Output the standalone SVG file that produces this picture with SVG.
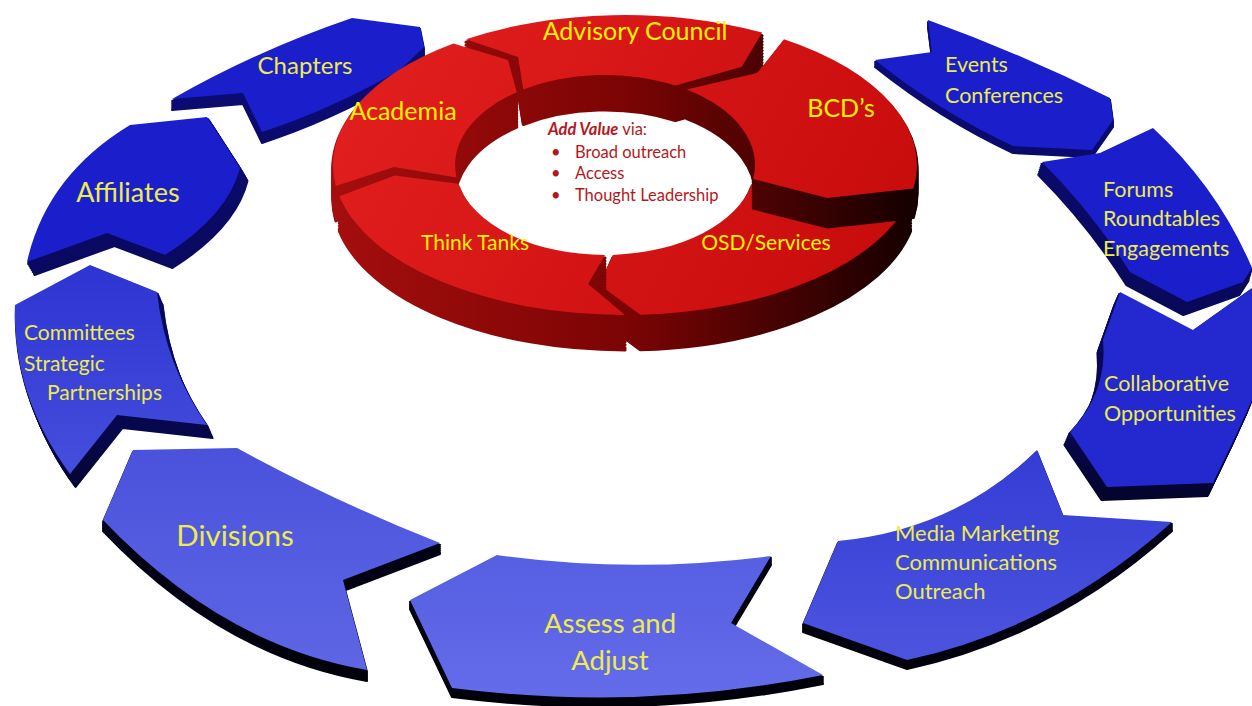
<svg xmlns="http://www.w3.org/2000/svg" width="1252" height="706" viewBox="0 0 1252 706">
<defs>
<linearGradient id="redTop" gradientUnits="userSpaceOnUse" x1="330" y1="20" x2="900" y2="330"><stop offset="0" stop-color="#e42020"/><stop offset="1" stop-color="#c60a0a"/></linearGradient>
<linearGradient id="redWall" gradientUnits="userSpaceOnUse" x1="330" y1="0" x2="920" y2="0"><stop offset="0" stop-color="#a50e0e"/><stop offset="0.5" stop-color="#7c0404"/><stop offset="1" stop-color="#140000"/></linearGradient>
<linearGradient id="blueSide" gradientUnits="userSpaceOnUse" x1="0" y1="0" x2="0" y2="706"><stop offset="0" stop-color="#0c0c7c"/><stop offset="0.6" stop-color="#07074c"/><stop offset="0.75" stop-color="#020216"/><stop offset="1" stop-color="#000008"/></linearGradient>
<linearGradient id="gComm" x1="0" y1="0" x2="0" y2="1"><stop offset="0" stop-color="#2d34d2"/><stop offset="1" stop-color="#464edc"/></linearGradient>
<linearGradient id="gMedia" x1="0" y1="0" x2="0" y2="1"><stop offset="0" stop-color="#343cd5"/><stop offset="1" stop-color="#4c54de"/></linearGradient>
<linearGradient id="gDiv" x1="0" y1="0" x2="0" y2="1"><stop offset="0" stop-color="#4a52dc"/><stop offset="1" stop-color="#5e66e5"/></linearGradient>
<linearGradient id="gAss" x1="0" y1="0" x2="0" y2="1"><stop offset="0" stop-color="#565ee2"/><stop offset="1" stop-color="#646cea"/></linearGradient>
<path id="pChap" d="M172,99 Q258,50 352,18 L420,27 L424,47 L400,70 Q330,110 262,132 L243,93 Z"/>
<path id="pEvents" d="M875,60 L932,52 L928,20 Q1022,54 1110,98 L1113,120 L1092,150 L1013,146 Q940,112 875,60 Z"/>
<path id="pAffil" d="M27,262 L107,233 L165,255 Q228,215 240,168 L207,117 L130,125 Q46,176 27,262 Z"/>
<path id="pForums" d="M1042,162 L1100,153 L1153,128 Q1218,188 1252,268 L1243,282 L1187,302 L1130,272 Q1092,212 1042,162 Z"/>
<path id="pComm" d="M15,305 L90,265 L157,292 Q165,365 207,425 L117,415 L70,474 Q12,395 15,305 Z"/>
<path id="pCollab" d="M1120,292 L1193,330 L1252,288 L1252,400 L1237,433 L1213,483 L1107,487 L1070,432 Q1108,392 1103,340 Z"/>
<path id="pDiv" d="M133,450 L237,448 Q338,503 440,543 L343,580 L367,670 Q222,645 103,520 Z"/>
<path id="pMedia" d="M803,623 L838,541 Q955,530 1037,450 L1063,515 L1172,522 Q1055,628 907,660 Z"/>
<path id="pAssess" d="M410,600 L497,555 Q633,574 771,556 L731,623 L823,675 Q640,712 452,688 Z"/>
<path id="pAdv" d="M466,39.2 A292 150 0 0 1 762.1,32.6 L741.8,66.7 L675.4,85.5 A150 90 0 0 0 523.3,89.5 L518.1,57.1 Z"/>
<path id="pAcad" d="M335.8,185.9 A292 150 0 0 1 453.4,43.6 L507.9,60 L516.8,92.2 A150 90 0 0 0 456.5,177.5 L394,167.1 Z"/>
<path id="pBcd" d="M784,39.2 A292 150 0 0 1 913.4,188.5 L827.4,198.1 L753.2,179.1 A150 90 0 0 0 686.7,89.5 L757.1,73.1 Z"/>
<path id="pOsd" d="M910.6,196.2 A292 150 0 0 1 640.3,314.8 L599.6,284.7 L612.8,254.9 A150 90 0 0 0 751.7,183.7 L824,204.1 Z"/>
<path id="pTt" d="M625,315 A292 150 0 0 1 339.4,196.2 L394.8,175.5 L458.3,183.7 A150 90 0 0 0 605,255 L588.1,284.1 Z"/>
</defs>
<style>
.bside{fill:url(#blueSide);stroke:url(#blueSide);stroke-width:2;stroke-linejoin:round}
.rwall{fill:url(#redWall);stroke:url(#redWall);stroke-width:3;stroke-linejoin:round}
.rtop{fill:url(#redTop)}
.bdeep{fill:#1b1fcb}
.bcol{fill:#2329cf}
.lbl{font-family:Lato,"Liberation Sans",sans-serif}
.ty{fill:#fff200}
.tb{fill:#ecec4e}
.tv{fill:#b3191b;font-size:16.5px}
</style>
<rect width="1252" height="706" fill="#ffffff"/>

<g id="chapters">
<use href="#pChap" class="bside" transform="translate(0,2)"/><use href="#pChap" class="bside" transform="translate(0,4)"/><use href="#pChap" class="bside" transform="translate(0,6)"/><use href="#pChap" class="bside" transform="translate(0,8)"/><use href="#pChap" class="bside" transform="translate(0,10)"/><use href="#pChap" class="bside" transform="translate(0,11)"/>
<use href="#pChap" class="bdeep"/>
<text class="lbl tb" x="305" y="74" font-size="24" text-anchor="middle">Chapters</text>
</g>

<g id="events">
<use href="#pEvents" class="bside" transform="translate(0,2)"/><use href="#pEvents" class="bside" transform="translate(0,4)"/><use href="#pEvents" class="bside" transform="translate(0,6)"/><use href="#pEvents" class="bside" transform="translate(0,7)"/>
<use href="#pEvents" class="bdeep"/>
<text class="lbl tb" x="945" y="72" font-size="21.5">Events</text>
<text class="lbl tb" x="945" y="103" font-size="21.5">Conferences</text>
</g>

<g id="affiliates">
<use href="#pAffil" class="bside" transform="translate(1.1,2)"/><use href="#pAffil" class="bside" transform="translate(2.3,4)"/><use href="#pAffil" class="bside" transform="translate(3.4,6)"/><use href="#pAffil" class="bside" transform="translate(4.6,8)"/><use href="#pAffil" class="bside" transform="translate(5.7,10)"/><use href="#pAffil" class="bside" transform="translate(6.9,12)"/><use href="#pAffil" class="bside" transform="translate(7.5,13)"/>
<use href="#pAffil" class="bdeep"/>
<text class="lbl tb" x="128" y="202" font-size="27" text-anchor="middle">Affiliates</text>
</g>

<g id="forums">
<use href="#pForums" class="bside" transform="translate(-0.6,2)"/><use href="#pForums" class="bside" transform="translate(-1.1,4)"/><use href="#pForums" class="bside" transform="translate(-1.7,6)"/><use href="#pForums" class="bside" transform="translate(-2.3,8)"/><use href="#pForums" class="bside" transform="translate(-2.9,10)"/><use href="#pForums" class="bside" transform="translate(-3.4,12)"/><use href="#pForums" class="bside" transform="translate(-3.7,13)"/>
<use href="#pForums" class="bdeep"/>
<text class="lbl tb" x="1103" y="197" font-size="21.5">Forums</text>
<text class="lbl tb" x="1103" y="226" font-size="21.5">Roundtables</text>
<text class="lbl tb" x="1103" y="256" font-size="21.5">Engagements</text>
</g>

<g id="committees">
<use href="#pComm" class="bside" transform="translate(0.9,2)"/><use href="#pComm" class="bside" transform="translate(1.7,4)"/><use href="#pComm" class="bside" transform="translate(2.6,6)"/><use href="#pComm" class="bside" transform="translate(3.4,8)"/><use href="#pComm" class="bside" transform="translate(4.3,10)"/><use href="#pComm" class="bside" transform="translate(5.1,12)"/><use href="#pComm" class="bside" transform="translate(5.6,13)"/>
<use href="#pComm" fill="url(#gComm)"/>
<text class="lbl tb" x="24" y="340" font-size="21">Committees</text>
<text class="lbl tb" x="24" y="371" font-size="21">Strategic</text>
<text class="lbl tb" x="47" y="400" font-size="21">Partnerships</text>
</g>

<g id="collaborative">
<use href="#pCollab" class="bside" transform="translate(-0.9,2)"/><use href="#pCollab" class="bside" transform="translate(-1.7,4)"/><use href="#pCollab" class="bside" transform="translate(-2.6,6)"/><use href="#pCollab" class="bside" transform="translate(-3.4,8)"/><use href="#pCollab" class="bside" transform="translate(-4.3,10)"/><use href="#pCollab" class="bside" transform="translate(-5.1,12)"/><use href="#pCollab" class="bside" transform="translate(-5.6,13)"/>
<use href="#pCollab" class="bcol"/>
<text class="lbl tb" x="1104" y="391" font-size="21.5">Collaborative</text>
<text class="lbl tb" x="1104" y="421" font-size="21.5">Opportunities</text>
</g>

<g id="divisions">
<use href="#pDiv" class="bside" transform="translate(0,2)"/><use href="#pDiv" class="bside" transform="translate(0,4)"/><use href="#pDiv" class="bside" transform="translate(0,6)"/><use href="#pDiv" class="bside" transform="translate(0,8)"/><use href="#pDiv" class="bside" transform="translate(0,10)"/><use href="#pDiv" class="bside" transform="translate(0,11)"/>
<use href="#pDiv" fill="url(#gDiv)"/>
<text class="lbl tb" x="235" y="546" font-size="29.5" text-anchor="middle">Divisions</text>
</g>

<g id="media">
<use href="#pMedia" class="bside" transform="translate(0,2)"/><use href="#pMedia" class="bside" transform="translate(0,4)"/><use href="#pMedia" class="bside" transform="translate(0,6)"/><use href="#pMedia" class="bside" transform="translate(0,8)"/><use href="#pMedia" class="bside" transform="translate(0,9)"/>
<use href="#pMedia" fill="url(#gMedia)"/>
<text class="lbl tb" x="895" y="541" font-size="22">Media Marketing</text>
<text class="lbl tb" x="895" y="570" font-size="22">Communications</text>
<text class="lbl tb" x="895" y="599" font-size="22">Outreach</text>
</g>

<g id="assess">
<use href="#pAssess" class="bside" transform="translate(0,2)"/><use href="#pAssess" class="bside" transform="translate(0,4)"/><use href="#pAssess" class="bside" transform="translate(0,6)"/><use href="#pAssess" class="bside" transform="translate(0,8)"/><use href="#pAssess" class="bside" transform="translate(0,9)"/>
<use href="#pAssess" fill="url(#gAss)"/>
<text class="lbl tb" x="610" y="633" font-size="27.5" text-anchor="middle">Assess and</text>
<text class="lbl tb" x="610" y="670" font-size="27.5" text-anchor="middle">Adjust</text>
</g>

<g id="advisory">
<use href="#pAdv" class="rwall" transform="translate(0,3)"/><use href="#pAdv" class="rwall" transform="translate(0,6)"/><use href="#pAdv" class="rwall" transform="translate(0,9)"/><use href="#pAdv" class="rwall" transform="translate(0,12)"/><use href="#pAdv" class="rwall" transform="translate(0,15)"/><use href="#pAdv" class="rwall" transform="translate(0,18)"/><use href="#pAdv" class="rwall" transform="translate(0,21)"/><use href="#pAdv" class="rwall" transform="translate(0,24)"/><use href="#pAdv" class="rwall" transform="translate(0,27)"/><use href="#pAdv" class="rwall" transform="translate(0,30)"/><use href="#pAdv" class="rwall" transform="translate(0,33)"/><use href="#pAdv" class="rwall" transform="translate(0,35)"/>
<use href="#pAdv" class="rtop"/>
<text class="lbl ty" x="635" y="40" font-size="25" text-anchor="middle">Advisory Council</text>
</g>

<g id="academia">
<use href="#pAcad" class="rwall" transform="translate(0,3)"/><use href="#pAcad" class="rwall" transform="translate(0,6)"/><use href="#pAcad" class="rwall" transform="translate(0,9)"/><use href="#pAcad" class="rwall" transform="translate(0,12)"/><use href="#pAcad" class="rwall" transform="translate(0,15)"/><use href="#pAcad" class="rwall" transform="translate(0,18)"/><use href="#pAcad" class="rwall" transform="translate(0,21)"/><use href="#pAcad" class="rwall" transform="translate(0,24)"/><use href="#pAcad" class="rwall" transform="translate(0,27)"/><use href="#pAcad" class="rwall" transform="translate(0,30)"/><use href="#pAcad" class="rwall" transform="translate(0,33)"/><use href="#pAcad" class="rwall" transform="translate(0,35)"/>
<use href="#pAcad" class="rtop"/>
<text class="lbl ty" x="403" y="120" font-size="25" text-anchor="middle">Academia</text>
</g>

<g id="osd-services">
<use href="#pOsd" class="rwall" transform="translate(0,3)"/><use href="#pOsd" class="rwall" transform="translate(0,6)"/><use href="#pOsd" class="rwall" transform="translate(0,9)"/><use href="#pOsd" class="rwall" transform="translate(0,12)"/><use href="#pOsd" class="rwall" transform="translate(0,15)"/><use href="#pOsd" class="rwall" transform="translate(0,18)"/><use href="#pOsd" class="rwall" transform="translate(0,21)"/><use href="#pOsd" class="rwall" transform="translate(0,24)"/><use href="#pOsd" class="rwall" transform="translate(0,27)"/><use href="#pOsd" class="rwall" transform="translate(0,30)"/><use href="#pOsd" class="rwall" transform="translate(0,33)"/><use href="#pOsd" class="rwall" transform="translate(0,35)"/>
<use href="#pOsd" class="rtop"/>
</g>

<g id="bcds">
<use href="#pBcd" class="rwall" transform="translate(0,3)"/><use href="#pBcd" class="rwall" transform="translate(0,6)"/><use href="#pBcd" class="rwall" transform="translate(0,9)"/><use href="#pBcd" class="rwall" transform="translate(0,12)"/><use href="#pBcd" class="rwall" transform="translate(0,15)"/><use href="#pBcd" class="rwall" transform="translate(0,18)"/><use href="#pBcd" class="rwall" transform="translate(0,21)"/><use href="#pBcd" class="rwall" transform="translate(0,24)"/><use href="#pBcd" class="rwall" transform="translate(0,27)"/><use href="#pBcd" class="rwall" transform="translate(0,29)"/>
<use href="#pBcd" class="rtop"/>
<text class="lbl ty" x="841" y="117" font-size="25" text-anchor="middle">BCD’s</text>
</g>

<g id="think-tanks">
<use href="#pTt" class="rwall" transform="translate(0,3)"/><use href="#pTt" class="rwall" transform="translate(0,6)"/><use href="#pTt" class="rwall" transform="translate(0,9)"/><use href="#pTt" class="rwall" transform="translate(0,12)"/><use href="#pTt" class="rwall" transform="translate(0,15)"/><use href="#pTt" class="rwall" transform="translate(0,18)"/><use href="#pTt" class="rwall" transform="translate(0,21)"/><use href="#pTt" class="rwall" transform="translate(0,24)"/><use href="#pTt" class="rwall" transform="translate(0,27)"/><use href="#pTt" class="rwall" transform="translate(0,30)"/><use href="#pTt" class="rwall" transform="translate(0,33)"/><use href="#pTt" class="rwall" transform="translate(0,35)"/>
<use href="#pTt" class="rtop"/>
<text class="lbl ty" x="475" y="250" font-size="21" text-anchor="middle">Think Tanks</text>
</g>

<g id="osd-label">
<text class="lbl ty" x="766" y="250" font-size="21" text-anchor="middle">OSD/Services</text>
</g>

<g id="add-value">
<text class="lbl tv" x="548" y="135"><tspan font-weight="bold" font-style="italic">Add Value</tspan> via:</text>
<text class="lbl tv" x="551" y="158">•</text><text class="lbl tv" x="575" y="158">Broad outreach</text>
<text class="lbl tv" x="551" y="179">•</text><text class="lbl tv" x="575" y="179">Access</text>
<text class="lbl tv" x="551" y="201">•</text><text class="lbl tv" x="575" y="201">Thought Leadership</text>
</g>
</svg>
